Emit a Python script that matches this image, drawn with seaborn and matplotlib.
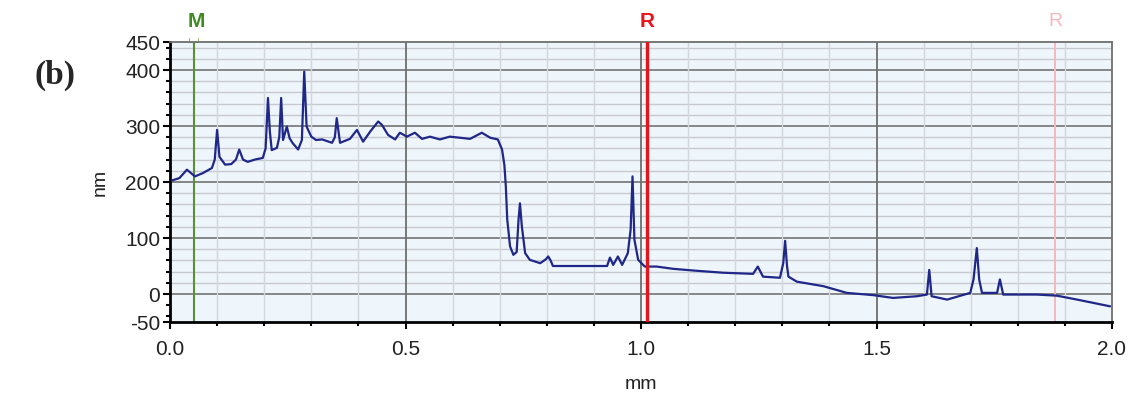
import numpy as np
import pandas as pd
import matplotlib
matplotlib.use("Agg")
import matplotlib.pyplot as plt
import matplotlib.transforms as mtransforms
from matplotlib.ticker import MultipleLocator, FixedLocator
import seaborn as sns

# ---- data ----
pos_mm = [0.005, 0.02, 0.036, 0.053, 0.07, 0.089, 0.095, 0.100, 0.105, 0.117,
          0.13, 0.14, 0.147, 0.155, 0.165, 0.18, 0.197, 0.203, 0.208, 0.212,
          0.216, 0.227, 0.232, 0.236, 0.24, 0.248, 0.254, 0.26, 0.272, 0.28,
          0.285, 0.29, 0.30, 0.31, 0.323, 0.344, 0.350, 0.354, 0.361, 0.382,
          0.397, 0.41, 0.425, 0.442, 0.45, 0.463, 0.478, 0.488, 0.503, 0.52,
          0.535, 0.552, 0.573, 0.594, 0.616, 0.637, 0.662, 0.68, 0.696, 0.705,
          0.710, 0.713, 0.716, 0.722, 0.729, 0.736, 0.740, 0.743, 0.747, 0.754,
          0.764, 0.786, 0.798, 0.803, 0.808, 0.813, 0.928, 0.934, 0.941, 0.951,
          0.96, 0.972, 0.978, 0.982, 0.986, 0.994, 1.008, 1.033, 1.068, 1.11,
          1.174, 1.238, 1.248, 1.259, 1.295, 1.302, 1.306, 1.310, 1.313, 1.331,
          1.387, 1.437, 1.493, 1.535, 1.586, 1.607, 1.612, 1.617, 1.65, 1.699,
          1.706, 1.713, 1.718, 1.724, 1.756, 1.762, 1.769, 1.84, 1.883, 1.926,
          1.996]
height_nm = [203, 207, 222, 210, 216, 225, 240, 293, 245, 231,
             232, 240, 258, 240, 236, 240, 243, 260, 350, 290,
             257, 261, 280, 350, 275, 299, 278, 270, 258, 275,
             397, 299, 281, 275, 276, 270, 280, 314, 270, 277,
             293, 272, 290, 308, 302, 284, 276, 288, 281, 288,
             277, 281, 276, 281, 279, 277, 288, 279, 276, 258,
             230, 192, 133, 85, 70, 75, 133, 162, 121, 73,
             61, 55, 62, 67, 60, 50, 50, 65, 52, 67,
             52, 73, 115, 210, 97, 61, 49, 49, 45, 42,
             38, 36, 49, 31, 29, 55, 95, 50, 31, 22,
             14, 2, -2, -7, -4, -1, 43, -4, -10, 2,
             26, 82, 26, 2, 2, 26, -1, -1, -3, -10,
             -22]

y_ticks = [-50, 0, 100, 200, 300, 400, 450]
x_ticks = [0.0, 0.5, 1.0, 1.5, 2.0]
x_tick_labels = ["0.0", "0.5", "1.0", "1.5", "2.0"]
cursor_names = ["M", "R", "R"]
cursor_pos = [0.05, 1.013, 1.879]

df = pd.DataFrame({"mm": pos_mm, "nm": height_nm})

sns.set_style("white")
plt.rcParams["font.family"] = ["Liberation Sans", "DejaVu Sans"]
plt.rcParams["axes.unicode_minus"] = False

fig = plt.figure(figsize=(11.33, 3.99), dpi=100)
ax = fig.add_axes([170 / 1133, 77 / 399, 942 / 1133, 280 / 399])
ax.set_facecolor("#eef5fb")

ax.set_xlim(0, 2.0)
ax.set_ylim(-50, 450)

# grid lines
for v in np.arange(20, 450, 20):
    if v % 100 != 0:
        ax.axhline(v, color="#c6cacf", lw=1.0, zorder=1)
for v in [0, 100, 200, 300, 400]:
    ax.axhline(v, color="#7d7d7d", lw=1.3, zorder=1)
for v in np.arange(0.1, 2.0, 0.1):
    if abs(v - round(v * 2) / 2) > 1e-6:
        ax.axvline(v, color="#d3d6da", lw=1.0, zorder=1)
for v in [0.5, 1.0, 1.5]:
    ax.axvline(v, color="#6e6e6e", lw=1.3, zorder=1)

# cursor lines
ax.axvline(cursor_pos[0], color="#5a8f3a", lw=1.5, zorder=2)
ax.axvline(cursor_pos[1], color="#e8141c", lw=2.4, zorder=4)
ax.axvline(cursor_pos[2], color="#f5b8c0", lw=1.4, zorder=2)

sns.lineplot(data=df, x="mm", y="nm", ax=ax, color="#1f2788", lw=1.6,
             estimator=None, sort=False, zorder=3)

trans = mtransforms.blended_transform_factory(ax.transData, ax.transAxes)
ax.text(cursor_pos[0] + 0.005, 1.075, cursor_names[0], transform=trans, color="#3f8a22",
        fontsize=15, fontweight="bold", ha="center", va="center")
ax.text(cursor_pos[1], 1.075, cursor_names[1], transform=trans, color="#e8141c",
        fontsize=15, fontweight="bold", ha="center", va="center")
ax.text(cursor_pos[2], 1.075, cursor_names[2], transform=trans, color="#f5b8c0",
        fontsize=14, ha="center", va="center")
ax.plot([cursor_pos[0] - 0.01, cursor_pos[0] - 0.01, cursor_pos[0] + 0.01, cursor_pos[0] + 0.01],
        [1.015, 1.0, 1.0, 1.015], transform=trans, color="#9fb86a", lw=0.8, clip_on=False)

# spines
for s in ["top", "right"]:
    ax.spines[s].set_visible(True)
    ax.spines[s].set_color("#6e6e6e")
    ax.spines[s].set_linewidth(1.3)
for s in ["left", "bottom"]:
    ax.spines[s].set_color("black")
    ax.spines[s].set_linewidth(2.0)

ax.yaxis.set_major_locator(FixedLocator(y_ticks))
ax.yaxis.set_minor_locator(MultipleLocator(20))
ax.xaxis.set_major_locator(FixedLocator(x_ticks))
ax.xaxis.set_minor_locator(MultipleLocator(0.1))
ax.set_xticklabels(x_tick_labels)
ax.tick_params(axis="both", which="major", direction="out", length=5, width=1.5,
               labelsize=15, colors="black", labelcolor="#222222", left=True, bottom=True)
ax.tick_params(axis="both", which="minor", direction="out", length=3, width=1.5,
               colors="black", left=True, bottom=True)
ax.tick_params(axis="x", which="major", pad=8)
ax.tick_params(axis="y", which="major", pad=2)

ax.set_xlabel("mm", fontsize=14, color="#222222", labelpad=12)
ax.set_ylabel("nm", fontsize=14, color="#222222", labelpad=12)

fig.text(55 / 1133, 1 - 75 / 399, "(b)", fontsize=24, fontweight="bold",
         family=["Liberation Serif", "DejaVu Serif"], ha="center", va="center")

fig.savefig("out.png", dpi=100)
